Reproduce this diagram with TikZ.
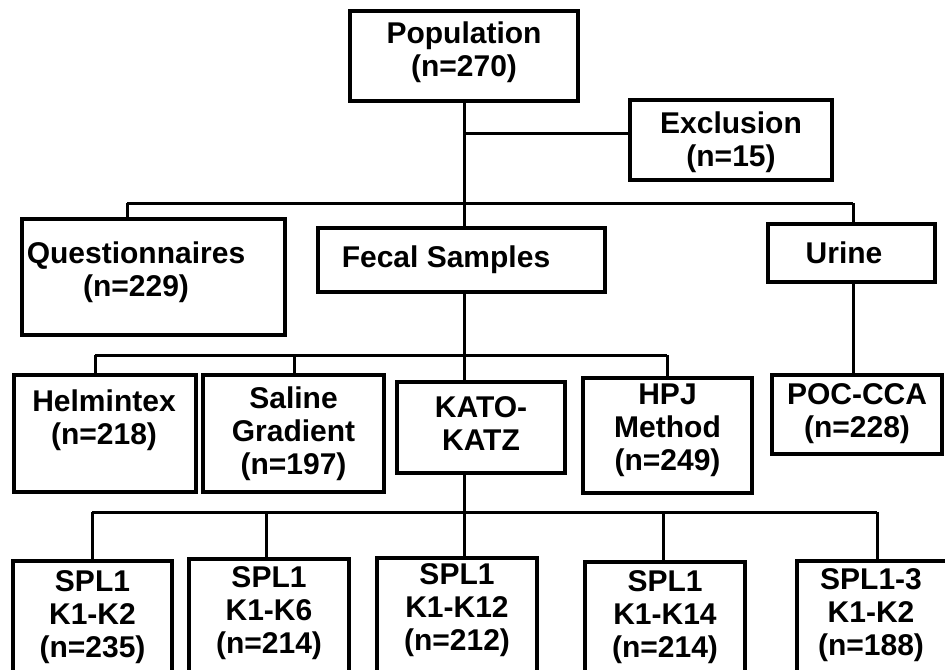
\documentclass[tikz,border=0pt]{standalone}
\usepackage{fontspec}
\setmainfont{Liberation Sans}
\begin{document}
\begin{tikzpicture}[x=0.5pt,y=-0.5pt,
  bx/.style={draw, line width=1.7pt, inner sep=0pt},
  ln/.style={line width=1.5pt},
  tx/.style={font=\bfseries\fontsize{15}{16.5}\selectfont, align=center, inner sep=0pt, anchor=north}]
\fill[white] (0,0) rectangle (945,669);
\useasboundingbox (0,0) rectangle (945,669);
% level 0
\node[bx, minimum width=114pt, minimum height=45pt,
  label={[tx, yshift=-6pt]north:{Population\\(n=270)}}] (pop) at (464,56) {};
\node[bx, minimum width=101pt, minimum height=40pt,
  label={[tx, yshift=-6.5pt]north:{Exclusion\\(n=15)}}] (exc) at (731,140) {};
% level 1
\node[bx, minimum width=131.5pt, minimum height=58pt,
  label={[tx, xshift=-8.75pt, yshift=-12pt]north:{Questionnaires\\(n=229)}}] (q) at (153.5,277) {};
\node[bx, minimum width=143.5pt, minimum height=32pt,
  label={[tx, xshift=-7.75pt, yshift=-9.5pt]north:{Fecal Samples}}] (fec) at (461.5,260) {};
\node[bx, minimum width=83.5pt, minimum height=29pt,
  label={[tx, xshift=-3.75pt, yshift=-9.5pt]north:{Urine}}] (ur) at (851.5,253) {};
% level 2
\node[bx, minimum width=91pt, minimum height=58.5pt,
  label={[tx, xshift=-0.5pt, yshift=-8pt]north:{Helmintex\\(n=218)}}] (hel) at (105,433.5) {};
\node[bx, minimum width=90.5pt, minimum height=58.5pt,
  label={[tx, yshift=-6.5pt]north:{Saline\\Gradient\\(n=197)}}] (sal) at (293.5,433.5) {};
\node[bx, minimum width=84pt, minimum height=45.5pt,
  label={[tx, yshift=-8pt]north:{KATO-\\KATZ}}] (kat) at (481,427.5) {};
\node[bx, minimum width=84.5pt, minimum height=57.5pt,
  label={[tx, yshift=-3.5pt]north:{HPJ\\Method\\(n=249)}}] (hpj) at (667.5,435.5) {};
\node[bx, minimum width=85pt, minimum height=39.5pt,
  label={[tx, yshift=-5pt]north:{POC-CCA\\(n=228)}}] (poc) at (857,414.5) {};
% level 3
\node[bx, minimum width=79.5pt, minimum height=64.5pt,
  label={[tx, yshift=-5.5pt]north:{SPL1\\K1-K2\\(n=235)}}] (s1) at (92.5,625.5) {};
\node[bx, minimum width=80pt, minimum height=65.5pt,
  label={[tx, yshift=-4.5pt]north:{SPL1\\K1-K6\\(n=214)}}] (s2) at (269,624.5) {};
\node[bx, minimum width=80pt, minimum height=66pt,
  label={[tx, yshift=-3.5pt]north:{SPL1\\K1-K12\\(n=212)}}] (s3) at (457,624) {};
\node[bx, minimum width=80pt, minimum height=64pt,
  label={[tx, yshift=-5pt]north:{SPL1\\K1-K14\\(n=214)}}] (s4) at (665,626) {};
\node[bx, minimum width=76.5pt, minimum height=64.5pt,
  label={[tx, xshift=-1.25pt, yshift=-4.5pt]north:{SPL1-3\\K1-K2\\(n=188)}}] (s5) at (873.5,625.5) {};
% junction points
\coordinate (ej) at (464,133);
\coordinate (qd) at (127,203);
\coordinate (ud) at (853,203);
\coordinate (b2l) at (95,355);
\coordinate (b2s) at (294,355);
\coordinate (b2r) at (667,355);
\coordinate (b3l) at (92,512);
\coordinate (b3a) at (266,512);
\coordinate (b3b) at (663,512);
\coordinate (b3r) at (877,512);
% connectors
\draw[ln] (pop.south) -- (pop.south |- fec.north);
\draw[ln] (ej) -- (ej -| exc.west);
\draw[ln] (qd) -- (ud);
\draw[ln] (qd) -- (qd |- q.north);
\draw[ln] (ud) -- (ud |- ur.north);
\draw[ln] (ud |- ur.south) -- (ud |- poc.north);
\draw[ln] (pop.south |- fec.south) -- (pop.south |- kat.north);
\draw[ln] (b2l) -- (b2r);
\draw[ln] (b2l) -- (b2l |- hel.north);
\draw[ln] (b2s) -- (b2s |- sal.north);
\draw[ln] (b2r) -- (b2r |- hpj.north);
\draw[ln] (pop.south |- kat.south) -- (pop.south |- s3.north);
\draw[ln] (b3l) -- (b3r);
\draw[ln] (b3l) -- (b3l |- s1.north);
\draw[ln] (b3a) -- (b3a |- s2.north);
\draw[ln] (b3b) -- (b3b |- s4.north);
\draw[ln] (b3r) -- (b3r |- s5.north);
\end{tikzpicture}
\end{document}
